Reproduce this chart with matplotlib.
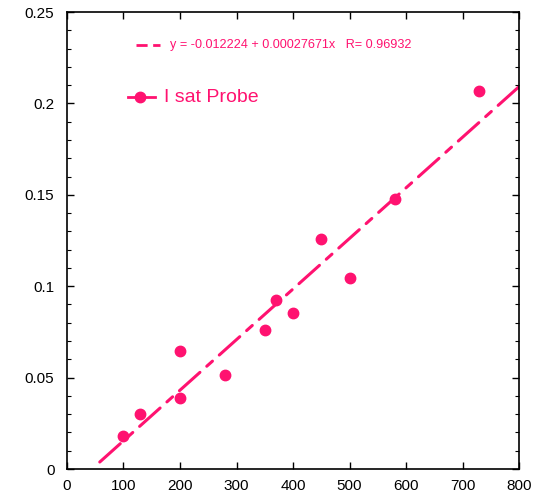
import matplotlib
matplotlib.use("Agg")
import matplotlib.pyplot as plt
import numpy as np
from matplotlib.ticker import MultipleLocator

x_vals = [100, 130, 200, 200, 280, 350, 370, 400, 450, 500, 580, 730]
y_vals = [0.018, 0.030, 0.0645, 0.039, 0.0515, 0.076, 0.0925, 0.0855, 0.1258, 0.1045, 0.1477, 0.2068]
fit_a = -0.012224
fit_b = 0.00027671
fit_R = 0.96932
fit_x = [58, 800]
color = "#ff1270"

plt.rcParams['font.family'] = ['Liberation Sans', 'DejaVu Sans']

fig = plt.figure(figsize=(5.42, 4.96), dpi=100)
ax = fig.add_axes([0.1236, 0.0544, 0.834, 0.9214])

fx = np.array(fit_x, dtype=float)
ax.plot(fx, fit_a + fit_b * fx, color=color, lw=2.2, dashes=(9, 3, 2.5, 3), solid_capstyle='round', dash_capstyle='round')
ax.plot(x_vals, y_vals, 'o', color=color, ms=7.5, mec=color)

ax.set_xlim(0, 800)
ax.set_ylim(0, 0.25)
ax.yaxis.set_minor_locator(MultipleLocator(0.01))
ax.set_yticks([0, 0.05, 0.1, 0.15, 0.2, 0.25])
ax.set_yticklabels(['0', '0.05', '0.1', '0.15', '0.2', '0.25'])
ax.set_xticks(range(0, 801, 100))
ax.set_xticklabels([str(v) for v in range(0, 801, 100)])
ax.tick_params(which='both', direction='in', top=True, right=True, labelsize=11)
ax.tick_params(which='major', length=5, width=1)
ax.tick_params(axis='y', which='major', pad=9)
ax.tick_params(axis='x', which='major', pad=7)
ax.tick_params(which='minor', length=3, width=0.8)
ax.tick_params(axis='x', which='minor', bottom=False, top=False)
for s in ax.spines.values():
    s.set_linewidth(1.2)

# legend-like annotations
ax.plot([122, 165], [0.2319, 0.2319], color=color, lw=2, dashes=(4, 2, 12, 2))
ax.text(182, 0.2319, "y = -0.012224 + 0.00027671x   R= 0.96932", color=color, fontsize=9.1, va='center')
ax.plot([108, 156], [0.2035, 0.2035], color=color, lw=2)
ax.plot([130], [0.2035], 'o', color=color, ms=7.5)
ax.text(171, 0.2035, "I sat Probe", color=color, fontsize=14, va='center')

fig.savefig("out.png", dpi=100)
